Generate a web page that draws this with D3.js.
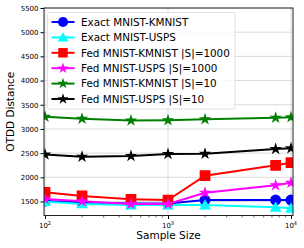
<!DOCTYPE html>
<html>
<head>
<meta charset="utf-8">
<script src="https://cdn.jsdelivr.net/npm/d3@7"></script>
<style>
  body { margin: 0; background: #fff; }
  text { font-family: "DejaVu Sans", sans-serif; }
</style>
</head>
<body>
<svg id="chart" width="304" height="248"></svg>
<script>
const sampleSizes = [100, 200, 500, 1000, 2000, 7500, 10000];
const exactKmnist = [1510, 1480, 1460, 1460, 1530, 1530, 1530];
const exactUsps = [1496, 1449, 1428, 1428, 1428, 1380, 1360];
const fedKmnist1000 = [1691, 1614, 1546, 1531, 2034, 2249, 2302];
const fedUsps1000 = [1552, 1505, 1449, 1449, 1682, 1835, 1889];
const fedKmnist10 = [3253, 3212, 3175, 3180, 3200, 3230, 3240];
const fedUsps10 = [2470, 2426, 2440, 2482, 2488, 2585, 2600];
const yTicks = [1500, 2000, 2500, 3000, 3500, 4000, 4500, 5000, 5500];
const xTicks = [100, 1000, 10000];

const series = [
    {name: 'Exact MNIST-KMNIST', values: exactKmnist, color: '#0000ff', marker: 'circle'},
    {name: 'Exact MNIST-USPS', values: exactUsps, color: '#00ffff', marker: 'triangle'},
    {name: 'Fed MNIST-KMNIST |S|=1000', values: fedKmnist1000, color: '#ff0000', marker: 'square'},
    {name: 'Fed MNIST-USPS |S|=1000', values: fedUsps1000, color: '#ff00ff', marker: 'star'},
    {name: 'Fed MNIST-KMNIST |S|=10', values: fedKmnist10, color: '#008000', marker: 'star'},
    {name: 'Fed MNIST-USPS |S|=10', values: fedUsps10, color: '#000000', marker: 'star'},
];

const plot = {left: 44, right: 293, top: 8, bottom: 215.5};

const x = d3.scaleLog()
    .domain([100, 10000])
    .range([45, 291]);

const y = d3.scaleLinear()
    .domain([1500, 5500])
    .range([201.5, 8]);

const symbols = {
    circle: d3.symbol().type(d3.symbolCircle).size(95),
    triangle: d3.symbol().type(d3.symbolTriangle).size(60),
    square: d3.symbol().type(d3.symbolSquare).size(115),
    star: d3.symbol().type(d3.symbolStar).size(48),
};
const legendSymbols = {
    circle: d3.symbol().type(d3.symbolCircle).size(80),
    triangle: d3.symbol().type(d3.symbolTriangle).size(50),
    square: d3.symbol().type(d3.symbolSquare).size(90),
    star: d3.symbol().type(d3.symbolStar).size(38),
};

const svg = d3.select('#chart');

// grid
let grid = svg.append('g').attr('stroke', '#d0d0d0').attr('stroke-width', 0.8);
grid.selectAll('.gy')
    .data(yTicks)
    .enter()
    .append('line')
        .attr('x1', plot.left).attr('x2', plot.right)
        .attr('y1', d => y(d)).attr('y2', d => y(d));
grid.selectAll('.gx')
    .data(xTicks)
    .enter()
    .append('line')
        .attr('y1', plot.top).attr('y2', plot.bottom)
        .attr('x1', d => x(d)).attr('x2', d => x(d));

// series
let line = d3.line()
    .x((d, i) => x(sampleSizes[i]))
    .y(d => y(d));

let clip = svg.append('clipPath').attr('id', 'clip')
    .append('rect')
        .attr('x', plot.left).attr('y', plot.top)
        .attr('width', plot.right - plot.left).attr('height', plot.bottom - plot.top);

let marks = svg.append('g').attr('clip-path', 'url(#clip)');
series.forEach(s => {
    let g = marks.append('g');
    g.append('path')
        .attr('d', line(s.values))
        .attr('fill', 'none')
        .attr('stroke', s.color)
        .attr('stroke-width', 2);
    g.selectAll('path.m')
        .data(s.values)
        .enter()
        .append('path')
            .attr('class', 'm')
            .attr('d', symbols[s.marker])
            .attr('fill', s.color)
            .attr('transform', (d, i) => {
                let dy = s.marker == 'triangle' ? 1 : 0;
                return `translate(${x(sampleSizes[i])},${y(d) + dy})`;
            });
});

// axes
let xAxis = d3.axisBottom(x)
    .tickValues(xTicks)
    .tickSize(3.5)
    .tickFormat('');
let xg = svg.append('g')
    .attr('transform', `translate(0,${plot.bottom})`)
    .call(xAxis);
xg.select('.domain').remove();

let minor = [];
[100, 1000].forEach(b => { for (let k = 2; k <= 9; k++) minor.push(b * k); });
xg.selectAll('.minor')
    .data(minor)
    .enter()
    .append('line')
        .attr('x1', d => x(d)).attr('x2', d => x(d))
        .attr('y1', 0).attr('y2', 2)
        .attr('stroke', '#000').attr('stroke-width', 0.6);

xg.selectAll('.lab')
    .data(xTicks)
    .enter()
    .append('text')
        .attr('x', d => x(d))
        .attr('y', 12)
        .attr('text-anchor', 'middle')
        .attr('font-size', 7)
        .attr('fill', '#000')
        .each(function(d) {
            let t = d3.select(this);
            t.append('tspan').text('10');
            t.append('tspan').attr('dy', -3).attr('font-size', 5).text(Math.round(Math.log10(d)));
        });

let yAxis = d3.axisLeft(y)
    .tickValues(yTicks)
    .tickSize(3.5)
    .tickPadding(2)
    .tickFormat(d3.format('d'));
let yg = svg.append('g')
    .attr('transform', `translate(${plot.left},0)`)
    .call(yAxis);
yg.select('.domain').remove();
yg.selectAll('text').attr('font-size', 7).attr('font-family', '"DejaVu Sans", sans-serif');

// frame
svg.append('rect')
    .attr('x', plot.left).attr('y', plot.top)
    .attr('width', plot.right - plot.left).attr('height', plot.bottom - plot.top)
    .attr('fill', 'none')
    .attr('stroke', '#222')
    .attr('stroke-width', 1);

svg.append('text')
    .attr('x', (plot.left + plot.right) / 2)
    .attr('y', 239)
    .attr('text-anchor', 'middle')
    .attr('font-size', 10.5)
    .text('Sample Size');

svg.append('text')
    .attr('transform', `translate(14,${(plot.top + plot.bottom) / 2}) rotate(-90)`)
    .attr('text-anchor', 'middle')
    .attr('font-size', 10.5)
    .text('OTDD Distance');

// legend
let legend = svg.append('g').attr('transform', 'translate(47.5,12.5)');
legend.append('rect')
    .attr('width', 187.5).attr('height', 96.5)
    .attr('rx', 2)
    .attr('fill', 'rgba(255,255,255,0.8)')
    .attr('stroke', '#d8d8d8')
    .attr('stroke-width', 0.8);

let item = legend.selectAll('g.item')
    .data(series)
    .enter()
    .append('g')
        .attr('transform', (d, i) => `translate(0,${9.5 + i * 15.4})`);

item.append('line')
    .attr('x1', 4).attr('x2', 27)
    .attr('stroke', d => d.color)
    .attr('stroke-width', 2);
item.append('path')
    .attr('d', d => legendSymbols[d.marker]())
    .attr('fill', d => d.color)
    .attr('transform', d => `translate(15.5,${d.marker == 'triangle' ? 1 : 0})`);
item.append('text')
    .attr('x', 33.5)
    .attr('y', 3.7)
    .attr('font-size', 10.4)
    .text(d => d.name);
</script>
</body>
</html>
